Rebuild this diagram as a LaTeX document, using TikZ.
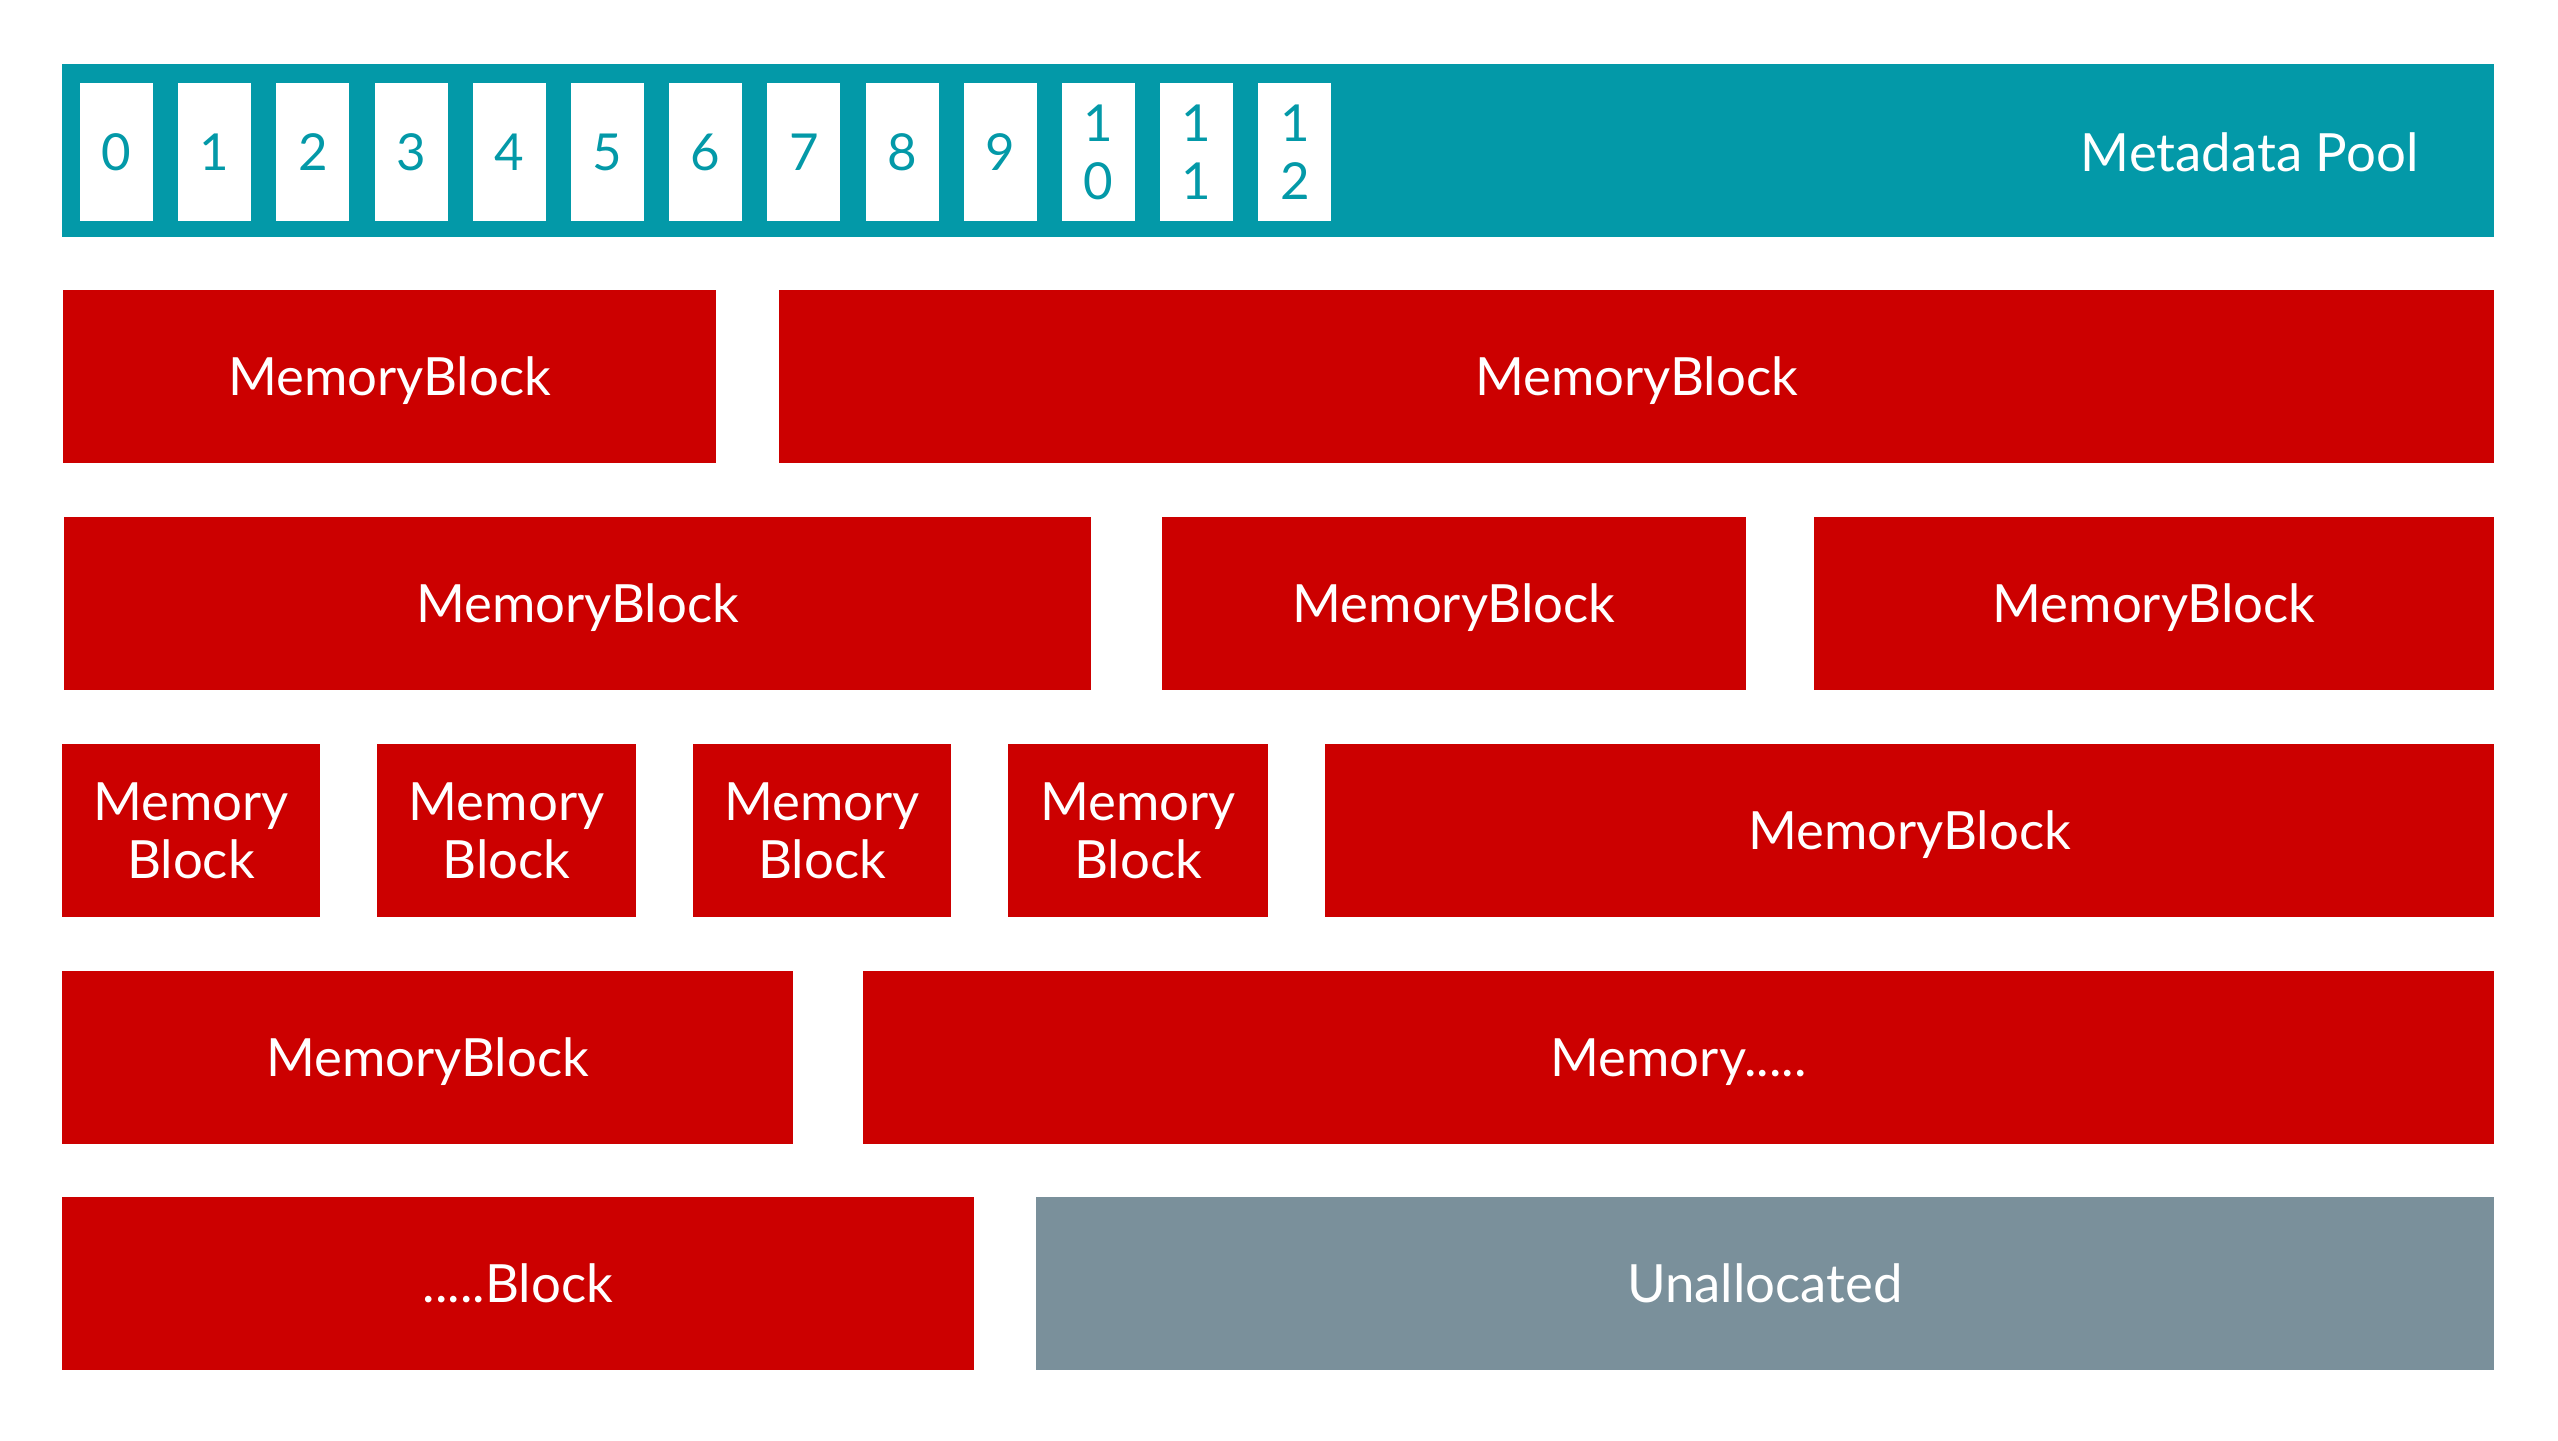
\documentclass[tikz,border=0pt]{standalone}
\usepackage{fontspec}
\setmainfont{Lato}
\usepackage{tikz}
\usetikzlibrary{positioning}
\definecolor{poolteal}{HTML}{0399A8}
\definecolor{blockred}{HTML}{CC0000}
\definecolor{freegrey}{HTML}{7A909B}

\begin{document}
\begin{tikzpicture}[pool/.style = {fill=poolteal, minimum width=24.32cm, minimum height=1.73cm, inner sep=0pt},slot/.style = {fill=white, text=poolteal, minimum width=0.73cm, minimum height=1.38cm, inner sep=0pt, align=center, font=\fontsize{14.5}{16.5}\selectfont},block/.style = {fill=blockred, text=white, minimum height=1.73cm, inner sep=0pt, text depth=0pt, align=center, font=\fontsize{15}{16.5}\selectfont},free/.style = {block, fill=freegrey}]
	\useasboundingbox[fill=white] (0,0) rectangle (25.58,-14.40);
	% metadata pool
	\node[pool] (pool) at (12.78,-1.505) {};
	\node[text=white, anchor=east, inner sep=0pt, font=\fontsize{15}{17}\selectfont] (pooltitle) at (24.19,-1.52) {Metadata Pool};
	\node[slot] (s0) at (1.165,-1.52) {0};
	\node[slot] (s1) at (2.147,-1.52) {1};
	\node[slot] (s2) at (3.129,-1.52) {2};
	\node[slot] (s3) at (4.111,-1.52) {3};
	\node[slot] (s4) at (5.093,-1.52) {4};
	\node[slot] (s5) at (6.075,-1.52) {5};
	\node[slot] (s6) at (7.057,-1.52) {6};
	\node[slot] (s7) at (8.039,-1.52) {7};
	\node[slot] (s8) at (9.021,-1.52) {8};
	\node[slot] (s9) at (10.003,-1.52) {9};
	\node[slot] (s10) at (10.985,-1.52) {1\\0};
	\node[slot] (s11) at (11.967,-1.52) {1\\1};
	\node[slot] (s12) at (12.949,-1.52) {1\\2};
	% memory blocks
	\node[block, minimum width=6.53cm] (b11) at (3.895,-3.765) {MemoryBlock};
	\node[block, minimum width=17.15cm] (b12) at (16.365,-3.765) {MemoryBlock};
	\node[block, minimum width=10.27cm] (b21) at (5.775,-6.035) {MemoryBlock};
	\node[block, minimum width=5.84cm] (b22) at (14.54,-6.035) {MemoryBlock};
	\node[block, minimum width=6.80cm] (b23) at (21.54,-6.035) {MemoryBlock};
	\node[block, minimum width=2.58cm] (b31) at (1.91,-8.305) {Memory\\Block};
	\node[block, minimum width=2.59cm] (b32) at (5.065,-8.305) {Memory\\Block};
	\node[block, minimum width=2.58cm] (b33) at (8.22,-8.305) {Memory\\Block};
	\node[block, minimum width=2.60cm] (b34) at (11.38,-8.305) {Memory\\Block};
	\node[block, minimum width=11.69cm] (b35) at (19.095,-8.305) {MemoryBlock};
	\node[block, minimum width=7.31cm] (b41) at (4.275,-10.575) {MemoryBlock};
	\node[block, minimum width=16.31cm] (b42) at (16.785,-10.575) {Memory.....};
	\node[block, minimum width=9.12cm] (b51) at (5.18,-12.835) {.....Block};
	\node[free, minimum width=14.58cm] (b52) at (17.65,-12.835) {Unallocated};
	\end{tikzpicture}
\end{document}
